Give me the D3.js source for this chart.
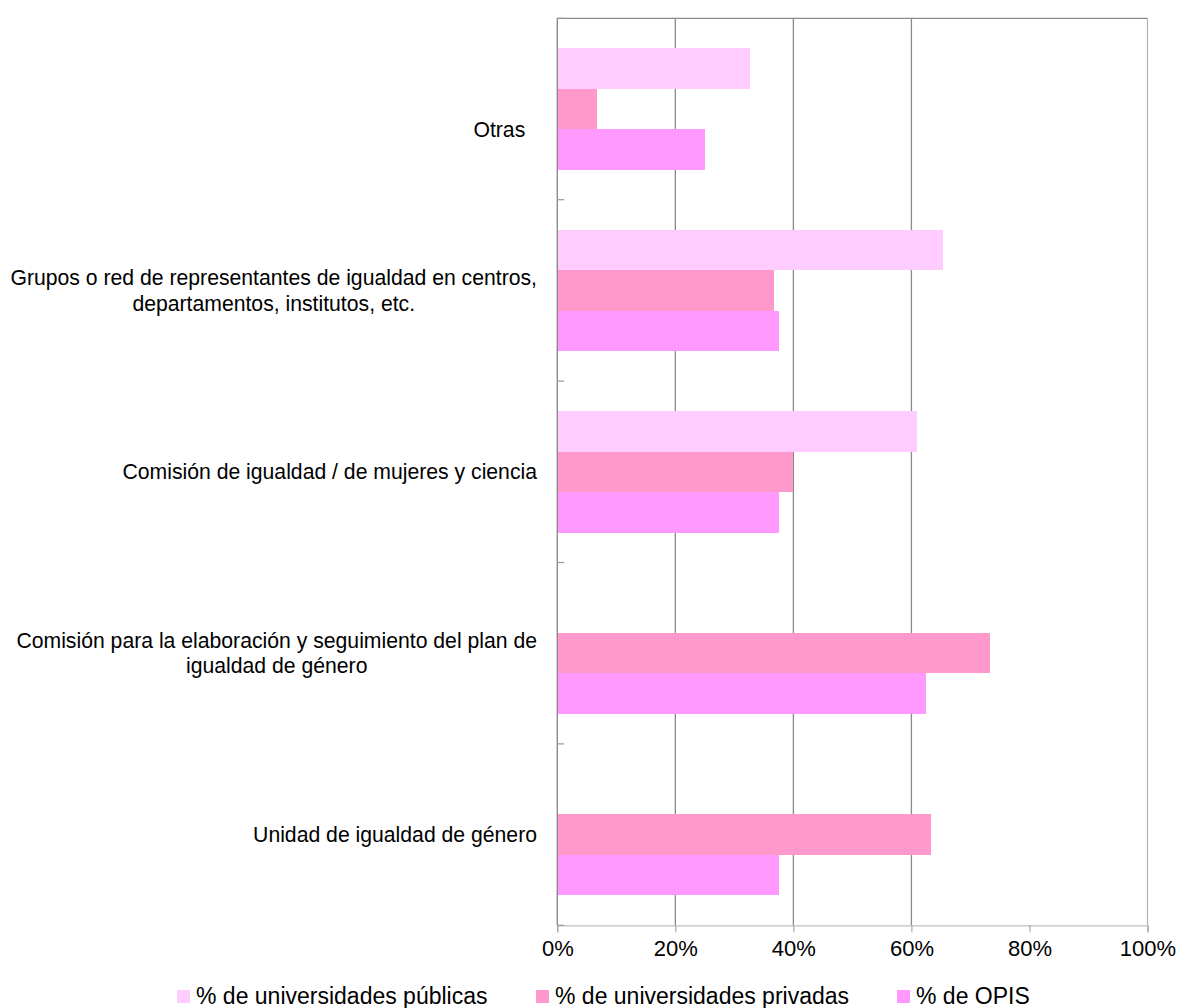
<!DOCTYPE html>
<html>
<head>
<meta charset="utf-8">
<script src="https://cdn.jsdelivr.net/npm/d3@7"></script>
<style>
  html, body { margin: 0; padding: 0; background: #fff; }
  text { font-family: "Liberation Sans", Arial, Helvetica, sans-serif; fill: #000; }
</style>
</head>
<body>
<svg id="chart" width="1180" height="1008"></svg>
<script>
// ---- data ----
const categories = [
  ["", "Otras\u00a0\u00a0"],
  ["Grupos o red de representantes de igualdad en centros,", "departamentos, institutos, etc."],
  ["Comisión de igualdad / de mujeres y ciencia"],
  ["Comisión para la elaboración y seguimiento del plan de", "igualdad de género"],
  ["Unidad de igualdad de género"]
];
const seriesNames = ["% de universidades públicas", "% de universidades privadas", "% de OPIS"];
const seriesColors = ["#FFCCFF", "#FF99CC", "#FF99FF"];
const publicas = [32.7, 65.3, 61.0, 0, 0];
const privadas = [6.7, 36.7, 40.0, 73.3, 63.3];
const opis = [25.0, 37.5, 37.5, 62.5, 37.5];
const seriesValues = [publicas, privadas, opis];
const xTicks = [0, 20, 40, 60, 80, 100];
const gridTicks = [20, 40, 60];

// ---- layout ----
const svg = d3.select("#chart");
const pLeft = 557.3, pRight = 1147.5, pTop = 18.3, pBottom = 925.3;

const x = d3.scaleLinear().domain([0, 100]).range([pLeft, pRight]);
const y = d3.scaleBand().domain(d3.range(categories.length)).range([pTop, pBottom]).padding(0);
const ys = d3.scaleBand().domain(d3.range(seriesNames.length)).range([0, y.bandwidth()])
  .paddingInner(0).paddingOuter(0.74);

// gridlines
svg.append("g").selectAll("line").data(gridTicks).join("line")
  .attr("x1", d => x(d)).attr("x2", d => x(d))
  .attr("y1", pTop).attr("y2", pBottom)
  .attr("stroke", "#8a8a8a").attr("stroke-width", 1.3);
// right border (100%)
svg.append("line").attr("x1", x(100)).attr("x2", x(100)).attr("y1", pTop).attr("y2", pBottom)
  .attr("stroke", "#b4b4b4").attr("stroke-width", 1.2);
// top border
svg.append("line").attr("x1", pLeft).attr("x2", x(100)).attr("y1", pTop).attr("y2", pTop)
  .attr("stroke", "#8a8a8a").attr("stroke-width", 1.3);

// bars
const groups = svg.append("g").selectAll("g").data(seriesValues).join("g")
  .attr("fill", (d, i) => seriesColors[i]);
groups.each(function(vals, si) {
  d3.select(this).selectAll("rect").data(vals).join("rect")
    .attr("x", x(0))
    .attr("y", (d, ci) => y(ci) + ys(si))
    .attr("width", d => x(d) - x(0))
    .attr("height", ys.bandwidth())
    .attr("shape-rendering", "crispEdges");
});

// bottom axis
const xAxis = d3.axisBottom(x).tickValues(xTicks).tickFormat(d => d + "%").tickSize(7).tickPadding(8);
const gx = svg.append("g").attr("transform", `translate(0,${pBottom})`).call(xAxis);
gx.select(".domain").attr("stroke", "#c0c0c0").attr("stroke-width", 1.2);
gx.selectAll(".tick line").attr("stroke", "#9a9a9a");
gx.selectAll(".tick text").style("font-size", "22px").style("font-family", "'Liberation Sans', Arial, sans-serif").attr("fill", "#000").attr("dy", "0.71em");

// left axis line + inward ticks at category boundaries
const boundaries = d3.range(categories.length + 1).map(i => i < categories.length ? y(i) : pBottom);
svg.append("line").attr("x1", pLeft).attr("x2", pLeft).attr("y1", pTop).attr("y2", pBottom)
  .attr("stroke", "#8a8a8a").attr("stroke-width", 1.4);
svg.append("g").selectAll("line").data(boundaries).join("line")
  .attr("x1", pLeft).attr("x2", pLeft + 7).attr("y1", d => d).attr("y2", d => d)
  .attr("stroke", "#9a9a9a").attr("stroke-width", 1.2);

// category labels (an empty leading line takes a taller paragraph slot)
const labelRight = 537, lineH = 25.5, emptyH = 42, fs = 21.2;
categories.forEach((lines, ci) => {
  const g = svg.append("g");
  const cy = y(ci) + y.bandwidth() / 2;
  const t = g.append("text").style("font-size", fs + "px").attr("text-anchor", "middle");
  const heights = lines.map(l => l === "" ? emptyH : lineH);
  const total = d3.sum(heights);
  let acc = cy - total / 2;
  lines.forEach((ln, li) => {
    const mid = acc + heights[li] / 2;
    acc += heights[li];
    if (ln === "") return;
    t.append("tspan").text(ln).attr("x", 0).attr("y", mid).attr("dy", "0.35em");
  });
  let w = 0;
  t.selectAll("tspan").each(function() { w = Math.max(w, this.getComputedTextLength()); });
  t.selectAll("tspan").attr("x", labelRight - w / 2);
});

// legend
const legendX = [177, 536, 897];
const lg = svg.append("g").selectAll("g").data(seriesNames).join("g")
  .attr("transform", (d, i) => `translate(${legendX[i]},0)`);
lg.append("rect").attr("x", 0).attr("y", 990).attr("width", 13).attr("height", 13)
  .attr("fill", (d, i) => seriesColors[i]);
lg.append("text").attr("x", 19).attr("y", 1004).style("font-size", "23px").text(d => d);
</script>
</body>
</html>
